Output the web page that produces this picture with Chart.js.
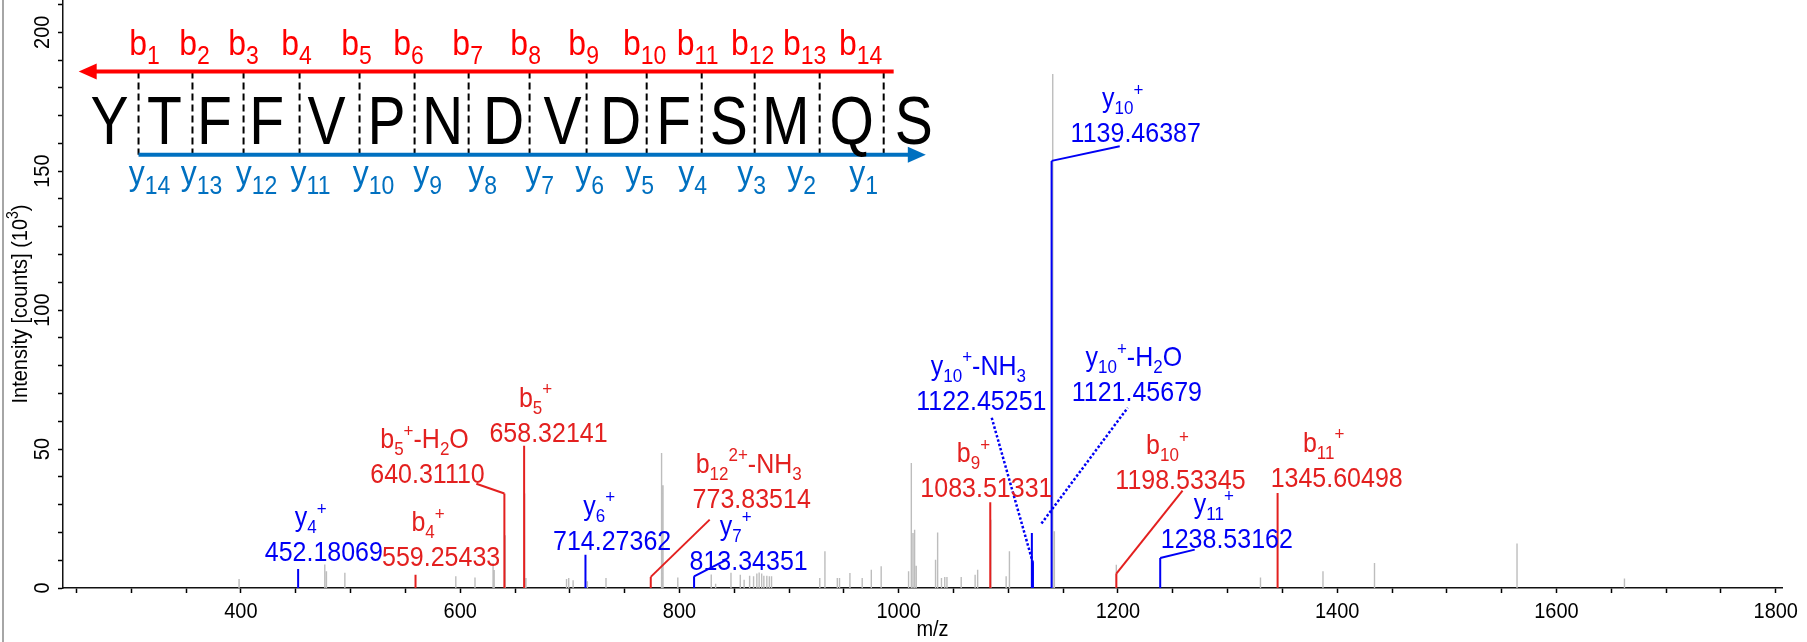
<!DOCTYPE html>
<html>
<head>
<meta charset="utf-8">
<script src="https://cdn.jsdelivr.net/npm/chart.js@4.4.1/dist/chart.umd.min.js"></script>
<style>
  html, body { margin: 0; padding: 0; background: #fff; }
  canvas { display: block; }
</style>
</head>
<body>
<canvas id="spectrum" width="1807" height="642"></canvas>
<script>
// MS/MS spectrum, intensities in 10^3 counts

// unassigned peaks
const otherMz = [398.3, 476.5, 478, 494.8, 596, 613.5, 630, 631, 641, 658.8, 660, 697, 699, 703,
  716, 733, 783.7, 785, 798.5, 829, 833, 847, 855.5, 859, 864, 867.6, 870.6, 872.7, 875, 877,
  879.7, 882, 884, 928, 932.7, 944, 946, 955.5, 966.7, 975, 984, 1009, 1011.5, 1013, 1014.5,
  1016, 1033.6, 1035.5, 1039, 1042, 1044, 1057, 1069.7, 1072, 1084, 1098, 1101, 1140.5, 1142,
  1198.5, 1330, 1387, 1434, 1564, 1662];
const otherInt = [3.2, 8.5, 6, 5.5, 4.2, 3.8, 9, 6.5, 19, 34, 3.6, 3.2, 3.6, 2.8,
  2.4, 3.6, 48.6, 37, 3.8, 4.9, 1.5, 5.5, 4.8, 3, 4.4, 4.2, 5.2, 5.6, 5.2, 4.4,
  4.4, 4.2, 4.2, 3.6, 13.2, 3.6, 3.6, 5.4, 3.6, 6.6, 7.8, 6, 45, 19.8, 21,
  8, 10.2, 20, 3.6, 4, 4, 4, 4.8, 6.6, 24.6, 4.2, 13.2, 185, 20.4,
  8.4, 3.8, 6, 9, 16, 3.4];

// b ions
const bMz = [559.25433, 640.31110, 658.32141, 773.83514, 1083.51331, 1198.53345, 1345.60498];
const bInt = [4.8, 34.0, 51.2, 4.0, 30.9, 5.2, 34.2];

// y ions
const yMz = [452.18069, 714.27362, 813.34351, 1121.45679, 1122.45251, 1139.46387, 1238.53162];
const yInt = [6.8, 12.0, 4.2, 19.8, 9.0, 153.7, 10.8];

// peak annotations (number line centre, in m/z and intensity units)
const labelIon = ['y_{4}^{+}', 'b_{4}^{+}', 'b_{5}^{+}-H_{2}O', 'b_{5}^{+}', 'y_{6}^{+}',
  'b_{12}^{2+}-NH_{3}', 'y_{7}^{+}', 'b_{9}^{+}', 'y_{10}^{+}-NH_{3}', 'y_{10}^{+}-H_{2}O',
  'y_{10}^{+}', 'b_{10}^{+}', 'y_{11}^{+}', 'b_{11}^{+}'];
const labelText = ['452.18069', '559.25433', '640.31110', '658.32141', '714.27362',
  '773.83514', '813.34351', '1083.51331', '1122.45251', '1121.45679',
  '1139.46387', '1198.53345', '1238.53162', '1345.60498'];
const labelSeries = ['y', 'b', 'b', 'b', 'y', 'b', 'y', 'b', 'y', 'y', 'y', 'b', 'y', 'b'];
const labelX = [475.6, 582.6, 570.2, 680.6, 738.6, 865.9, 863.1, 1080, 1075.4, 1217.2,
  1216.2, 1257, 1299.3, 1399.5];
const labelY = [13.2, 11.4, 41.4, 56.3, 17.4, 32.5, 10.2, 36.4, 67.8, 71, 164, 39.3, 18, 40.1];

// leader lines: [series, fromMz, fromInt, toMz, toInt, dotted]
const leaders = [
  ['b', 640.31, 34.0, 614.7, 37.5, false],
  ['b', 773.84, 4.0, 827.6, 24.6, false],
  ['y', 813.34, 4.2, 843.1, 10.2, false],
  ['y', 1122.45, 9.0, 1084.6, 61.6, true],
  ['y', 1130.2, 23.2, 1208.9, 64.9, true],
  ['y', 1139.46, 153.7, 1201.6, 159, false],
  ['b', 1198.53, 5.2, 1258.9, 35, false],
  ['y', 1238.53, 10.8, 1270, 13.8, false],
];

// peptide map (placed in m/z / intensity units)
const residues = ['Y', 'T', 'F', 'F', 'V', 'P', 'N', 'D', 'V', 'D', 'F', 'S', 'M', 'Q', 'S'];
const residueX = [280.1, 330.3, 375.9, 423.4, 478.1, 532.8, 583.9, 639.6, 693.4, 746.4,
  794.7, 844.9, 896.9, 957.1, 1013.7];
const cleavageX = [306.6, 355.8, 402.4, 453.5, 508.2, 558.4, 607.7, 663.3, 715.3, 770.1,
  820.3, 868.6, 927.9, 986.3];
const bLabelX = [312.0, 357.7, 402.4, 450.7, 505.5, 552.9, 606.8, 659.7, 712.6, 768.2,
  816.6, 866.8, 914.2, 965.3];
const yLabelX = [316.6, 364.1, 414.2, 463.5, 521.0, 570.3, 620.4, 672.4, 718.1, 763.7,
  812.0, 865.9, 911.5, 968.1];
const mapLevels = { bText: 191.8, bArrow: 185.9, residue: 159.6, yArrow: 155.9, yText: 145.1 };
const bArrowRange = [252.0, 995.4];
const yArrowRange = [306.6, 1024.7];

const xMin = 237.7, xMax = 1805.7, yMax = 211.6;

const FONT = '"Liberation Sans", Arial, sans-serif';
const STRETCH = 1.12; // glyphs in the original are a little taller than wide
const RED = '#E3201F';
const BLUE = '#0000F5';
const MAP_RED = '#FF0000';
const MAP_BLUE = '#0070C0';
const GRAY = '#BDBDBD';

function sticks(mz, ints) {
  const pts = [];
  mz.forEach((m, i) => {
    pts.push({ x: m, y: 0 }, { x: m, y: ints[i] }, { x: m, y: null });
  });
  return pts;
}

function parseRich(s) {
  const parts = [];
  let buf = '';
  let i = 0;
  while (i < s.length) {
    const c = s[i];
    if ((c === '_' || c === '^') && s[i + 1] === '{') {
      if (buf) { parts.push({ t: buf, k: 0 }); buf = ''; }
      const end = s.indexOf('}', i);
      parts.push({ t: s.slice(i + 2, end), k: c === '_' ? 1 : -1 });
      i = end + 1;
    } else {
      buf += c;
      i++;
    }
  }
  if (buf) parts.push({ t: buf, k: 0 });
  return parts;
}

function drawRich(ctx, s, cx, baseY, size, small, color, stretch) {
  const parts = parseRich(s);
  let w = 0;
  parts.forEach(p => {
    ctx.font = (p.k ? small : size) + 'px ' + FONT;
    p.w = ctx.measureText(p.t).width;
    w += p.w;
  });
  let x = cx - w / 2;
  ctx.save();
  ctx.translate(0, baseY);
  ctx.scale(1, stretch || 1);
  ctx.fillStyle = color;
  ctx.textAlign = 'left';
  ctx.textBaseline = 'alphabetic';
  parts.forEach(p => {
    ctx.font = (p.k ? small : size) + 'px ' + FONT;
    const dy = p.k === 1 ? size * 0.25 : (p.k === -1 ? -size * 0.4 : 0);
    ctx.fillText(p.t, x, dy);
    x += p.w;
  });
  ctx.restore();
}

function drawTall(ctx, txt, x, baseY, stretch) {
  ctx.save();
  ctx.translate(x, baseY);
  ctx.scale(1, stretch);
  ctx.fillText(txt, 0, 0);
  ctx.restore();
}

const annotations = {
  id: 'annotations',
  afterDraw(chart) {
    const ctx = chart.ctx;
    const xs = chart.scales.x;
    const ys = chart.scales.y;
    const area = chart.chartArea;
    const px = v => xs.getPixelForValue(v);
    const py = v => ys.getPixelForValue(v);
    ctx.save();

    // frame line on the far left
    ctx.strokeStyle = '#A6A6A6';
    ctx.lineWidth = 2;
    ctx.beginPath();
    ctx.moveTo(3, 0);
    ctx.lineTo(3, chart.height);
    ctx.stroke();

    // tick labels
    ctx.fillStyle = '#000';
    ctx.font = '20px ' + FONT;
    ctx.textAlign = 'center';
    ctx.textBaseline = 'alphabetic';
    xs.ticks.forEach(t => {
      if (t.value % 200 === 0) drawTall(ctx, String(t.value), px(t.value), area.bottom + 30, STRETCH);
    });
    ys.ticks.forEach(t => {
      if (t.value % 50 !== 0) return;
      ctx.save();
      ctx.translate(49, py(t.value));
      ctx.rotate(-Math.PI / 2);
      ctx.scale(1, STRETCH);
      ctx.fillText(String(t.value), 0, 0);
      ctx.restore();
    });

    // axis titles
    drawTall(ctx, 'm/z', (area.left + area.right) / 2 + 10, area.bottom + 48, STRETCH);
    ctx.save();
    ctx.translate(27, (area.top + area.bottom) / 2 + 10);
    ctx.rotate(-Math.PI / 2);
    drawRich(ctx, 'Intensity [counts] (10^{3})', 0, 0, 20, 14, '#000', STRETCH);
    ctx.restore();

    // leader lines
    leaders.forEach(l => {
      ctx.strokeStyle = l[0] === 'y' ? BLUE : RED;
      ctx.lineWidth = l[5] ? 2.5 : 2;
      ctx.setLineDash(l[5] ? [2.5, 2] : []);
      ctx.beginPath();
      ctx.moveTo(px(l[1]), py(l[2]));
      ctx.lineTo(px(l[3]), py(l[4]));
      ctx.stroke();
    });
    ctx.setLineDash([]);

    // peak labels
    labelText.forEach((txt, i) => {
      const color = labelSeries[i] === 'b' ? RED : BLUE;
      const cx = px(labelX[i]);
      const cy = py(labelY[i]);
      ctx.fillStyle = color;
      ctx.font = '25px ' + FONT;
      ctx.textAlign = 'center';
      ctx.textBaseline = 'alphabetic';
      drawTall(ctx, txt, cx, cy + 10, STRETCH);
      const shift = labelIon[i].indexOf('-') >= 0 ? -3 : -13;
      drawRich(ctx, labelIon[i], cx + shift, cy - 25, 25, 17, color, STRETCH);
    });

    // peptide map
    const bY = py(mapLevels.bArrow);
    const yY = py(mapLevels.yArrow);
    ctx.strokeStyle = '#000';
    ctx.lineWidth = 2;
    ctx.setLineDash([7, 4]);
    cleavageX.forEach(m => {
      ctx.beginPath();
      ctx.moveTo(px(m), bY);
      ctx.lineTo(px(m), yY);
      ctx.stroke();
    });
    ctx.setLineDash([]);

    // b arrow (points left)
    ctx.strokeStyle = MAP_RED;
    ctx.fillStyle = MAP_RED;
    ctx.lineWidth = 4;
    const bx0 = px(bArrowRange[0]);
    ctx.beginPath();
    ctx.moveTo(bx0 + 14, bY);
    ctx.lineTo(px(bArrowRange[1]), bY);
    ctx.stroke();
    ctx.beginPath();
    ctx.moveTo(bx0, bY);
    ctx.lineTo(bx0 + 18, bY - 8);
    ctx.lineTo(bx0 + 18, bY + 8);
    ctx.closePath();
    ctx.fill();

    // y arrow (points right)
    ctx.strokeStyle = MAP_BLUE;
    ctx.fillStyle = MAP_BLUE;
    const yx1 = px(yArrowRange[1]);
    ctx.beginPath();
    ctx.moveTo(px(yArrowRange[0]), yY);
    ctx.lineTo(yx1 - 14, yY);
    ctx.stroke();
    ctx.beginPath();
    ctx.moveTo(yx1, yY);
    ctx.lineTo(yx1 - 18, yY - 8);
    ctx.lineTo(yx1 - 18, yY + 8);
    ctx.closePath();
    ctx.fill();

    // residues
    ctx.fillStyle = '#000';
    ctx.font = '62px ' + FONT;
    ctx.textAlign = 'center';
    ctx.textBaseline = 'alphabetic';
    residues.forEach((r, i) => {
      ctx.save();
      ctx.translate(px(residueX[i]), py(mapLevels.residue));
      ctx.scale(0.92, 1.12);
      ctx.fillText(r, 0, 0);
      ctx.restore();
    });

    // fragment names
    bLabelX.forEach((m, i) => {
      drawRich(ctx, 'b_{' + (i + 1) + '}', px(m), py(mapLevels.bText), 32, 23, MAP_RED, STRETCH);
    });
    yLabelX.forEach((m, i) => {
      drawRich(ctx, 'y_{' + (14 - i) + '}', px(m), py(mapLevels.yText), 32, 23, MAP_BLUE, STRETCH);
    });

    ctx.restore();
  }
};

new Chart(document.getElementById('spectrum'), {
  type: 'line',
  data: {
    datasets: [
      { label: 'b ions', data: sticks(bMz, bInt), borderColor: RED, borderWidth: 2 },
      { label: 'y ions', data: sticks(yMz, yInt), borderColor: BLUE, borderWidth: 2 },
      { label: 'other', data: sticks(otherMz, otherInt), borderColor: GRAY, borderWidth: 1.4 },
    ],
  },
  options: {
    responsive: false,
    animation: false,
    devicePixelRatio: 1,
    spanGaps: false,
    layout: { padding: { left: 0, right: 25, top: 0, bottom: 0 } },
    elements: {
      point: { radius: 0, hoverRadius: 0 },
      line: { tension: 0, fill: false },
    },
    plugins: {
      legend: { display: false },
      tooltip: { enabled: false },
    },
    scales: {
      x: {
        type: 'linear',
        min: xMin,
        max: xMax,
        afterBuildTicks: scale => {
          const t = [];
          for (let v = 250; v <= 1800; v += 50) t.push({ value: v });
          scale.ticks = t;
        },
        afterFit: scale => { scale.height = 54; },
        ticks: { display: false },
        grid: { drawOnChartArea: false, drawTicks: true, tickLength: 5, tickColor: '#000', tickWidth: 1.5 },
        border: { display: true, color: '#111', width: 1.5 },
      },
      y: {
        type: 'linear',
        min: 0,
        max: yMax,
        afterBuildTicks: scale => {
          const t = [];
          for (let v = 0; v <= 210; v += 10) t.push({ value: v });
          scale.ticks = t;
        },
        afterFit: scale => { scale.width = 63; },
        ticks: { display: false },
        grid: { drawOnChartArea: false, drawTicks: true, tickLength: 5, tickColor: '#000', tickWidth: 1.5 },
        border: { display: true, color: '#111', width: 1.5 },
      },
    },
  },
  plugins: [annotations],
});
</script>
</body>
</html>
